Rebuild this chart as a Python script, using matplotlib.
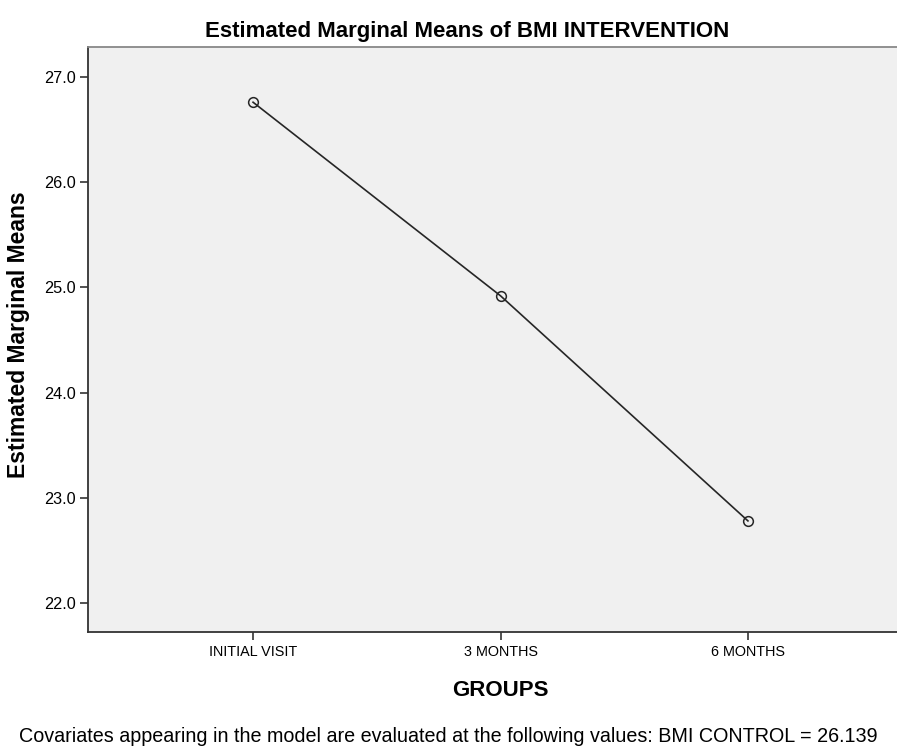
import matplotlib
matplotlib.use("Agg")
import matplotlib.pyplot as plt

plt.rcParams['font.family'] = ['Liberation Sans', 'DejaVu Sans']

groups = ['INITIAL VISIT', '3 MONTHS', '6 MONTHS']
means = [26.76, 24.92, 22.78]
yticks = [22.0, 23.0, 24.0, 25.0, 26.0, 27.0]

W, H = 897, 747
fig = plt.figure(figsize=(W / 100, H / 100), dpi=100)
# axes box in pixels: left 88, top 47, bottom 632, right edge runs past the image
ax = fig.add_axes([88 / W, 1 - 632 / H, (913 - 88) / W, (632 - 47) / H])
ax.set_facecolor('#f0f0f0')

x = list(range(len(groups)))
ax.plot(x, means, color='#262626', lw=1.2, marker='o', ms=7,
        mfc='none', mec='#262626', mew=1.1)

ax.set_xlim(-0.667, 2.667)
ax.set_ylim(21.724, 27.285)
ax.set_xticks(x)
ax.set_xticklabels(groups, fontsize=10.4)
ax.set_yticks(yticks)
ax.set_yticklabels(['%.1f' % v for v in yticks], fontsize=11.7)
ax.tick_params(direction='out', length=6, width=1.2, color='#333333', pad=3)

for s in ['left', 'bottom']:
    ax.spines[s].set_color('#333333')
    ax.spines[s].set_linewidth(1.3)
ax.spines['top'].set_color('#888888')
ax.spines['top'].set_linewidth(1.3)
ax.spines['right'].set_visible(False)

fig.text(467 / W, 1 - 31 / H, 'Estimated Marginal Means of BMI INTERVENTION',
         ha='center', va='center', fontsize=16, fontweight='bold')
fig.text(19 / W, 1 - 335 / H, 'Estimated Marginal Means', rotation=90,
         ha='center', va='center', fontsize=16.5, fontweight='bold')
fig.text(500 / W, 1 - 691 / H, 'GROUPS', ha='center', va='center',
         fontsize=16, fontweight='bold')
fig.text(448 / W, 1 - 736 / H,
         'Covariates appearing in the model are evaluated at the following values: BMI CONTROL = 26.139',
         ha='center', va='center', fontsize=14.2)

fig.savefig('out.png', dpi=100)
